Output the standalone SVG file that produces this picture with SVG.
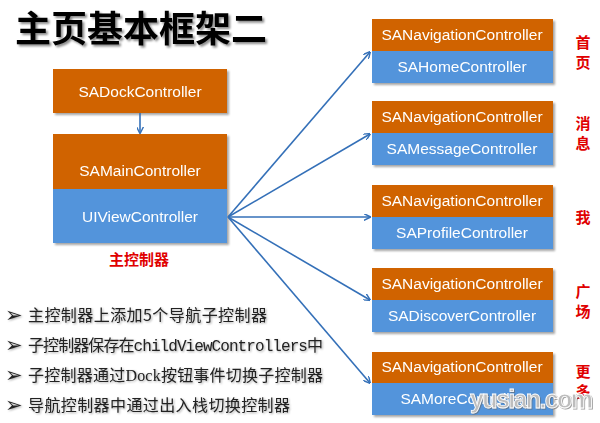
<svg xmlns="http://www.w3.org/2000/svg" width="600" height="423" viewBox="0 0 600 423">
<defs>
<filter id="sh" x="-10%" y="-10%" width="125%" height="130%"><feDropShadow dx="2" dy="2" stdDeviation="1" flood-color="#000" flood-opacity="0.35"/></filter>
<filter id="tsh" x="-5%" y="-10%" width="115%" height="130%"><feDropShadow dx="2" dy="2" stdDeviation="1.2" flood-color="#000" flood-opacity="0.45"/></filter>
<filter id="bsh" x="-5%" y="-20%" width="115%" height="150%"><feDropShadow dx="1" dy="1" stdDeviation="0.8" flood-color="#000" flood-opacity="0.35"/></filter>
<filter id="wsh" x="-5%" y="-20%" width="115%" height="150%"><feDropShadow dx="1" dy="1" stdDeviation="0.6" flood-color="#666" flood-opacity="0.6"/></filter>
<marker id="ah" viewBox="0 0 10 10" refX="9" refY="5" markerWidth="7" markerHeight="7" orient="auto" markerUnits="userSpaceOnUse">
<path d="M0,0 L10,5 L0,10" fill="none" stroke="#3470B8" stroke-width="2"/>
</marker>
</defs>
<style>
.or{fill:#D06400}
.bl{fill:#5294DB}
.bt{font-family:"Liberation Sans",Arial,sans-serif;font-size:15.5px;fill:#fff;text-anchor:middle}
.red{font-family:"Noto Sans CJK SC",sans-serif;font-size:15px;font-weight:bold;fill:#E00000;text-anchor:middle}
.bul{font-family:"Noto Sans CJK SC",sans-serif;font-size:16px;fill:#222}
.arr{font-family:"DejaVu Sans",sans-serif;font-size:21px;fill:#222}
.con line{stroke:#3470B8;stroke-width:1.6;marker-end:url(#ah)}
</style>
<rect width="600" height="423" fill="#fff"/>
<text x="15" y="42" font-family="Noto Sans CJK SC,sans-serif" font-size="36" font-weight="bold" fill="#000" filter="url(#tsh)" textLength="252">主页基本框架二</text>

<g id="dock" filter="url(#sh)">
<rect class="or" x="53" y="69" width="174" height="44"/>
<text class="bt" x="140" y="97">SADockController</text>
</g>
<g id="main" filter="url(#sh)">
<rect class="or" x="53" y="134" width="174" height="55"/>
<rect class="bl" x="53" y="189" width="174" height="54"/>
<text class="bt" x="140" y="176">SAMainController</text>
<text class="bt" x="140" y="222">UIViewController</text>
</g>
<text id="mainlabel" class="red" x="139" y="265">主控制器</text>

<g id="nav1" filter="url(#sh)">
<rect class="or" x="372" y="19" width="181" height="32"/>
<rect class="bl" x="372" y="51" width="181" height="32"/>
<text class="bt" x="462" y="40">SANavigationController</text>
<text class="bt" x="462" y="72">SAHomeController</text>
</g>
<g id="nav2" filter="url(#sh)">
<rect class="or" x="372" y="101" width="181" height="32"/>
<rect class="bl" x="372" y="133" width="181" height="32"/>
<text class="bt" x="462" y="122">SANavigationController</text>
<text class="bt" x="462" y="154">SAMessageController</text>
</g>
<g id="nav3" filter="url(#sh)">
<rect class="or" x="372" y="185" width="181" height="32"/>
<rect class="bl" x="372" y="217" width="181" height="32"/>
<text class="bt" x="462" y="206">SANavigationController</text>
<text class="bt" x="462" y="238">SAProfileController</text>
</g>
<g id="nav4" filter="url(#sh)">
<rect class="or" x="372" y="268" width="181" height="32"/>
<rect class="bl" x="372" y="300" width="181" height="32"/>
<text class="bt" x="462" y="289">SANavigationController</text>
<text class="bt" x="462" y="321">SADiscoverController</text>
</g>
<g id="nav5" filter="url(#sh)">
<rect class="or" x="372" y="352" width="181" height="31"/>
<rect class="bl" x="372" y="383" width="181" height="32"/>
<text class="bt" x="462" y="372">SANavigationController</text>
<text class="bt" x="462" y="404">SAMoreController</text>
</g>

<g id="tabs">
<text class="red" x="583" y="48">首</text>
<text class="red" x="583" y="68">页</text>
<text class="red" x="583" y="129">消</text>
<text class="red" x="583" y="149">息</text>
<text class="red" x="583" y="223">我</text>
<text class="red" x="583" y="297">广</text>
<text class="red" x="583" y="317">场</text>
<text class="red" x="583" y="377">更</text>
<text class="red" x="583" y="397">多</text>
</g>

<g id="connectors" class="con">
<line x1="140" y1="113" x2="140" y2="133"/>
<line x1="228" y1="217" x2="370" y2="52"/>
<line x1="228" y1="217" x2="370" y2="134"/>
<line x1="228" y1="217" x2="370" y2="217"/>
<line x1="228" y1="217" x2="370" y2="300"/>
<line x1="228" y1="217" x2="370" y2="383"/>
</g>

<g id="bullets" filter="url(#bsh)">
<text class="arr" x="5" y="322">➢</text>
<text class="arr" x="5" y="352">➢</text>
<text class="arr" x="5" y="382">➢</text>
<text class="arr" x="5" y="412">➢</text>
<text class="bul" x="28" y="321" textLength="239">主控制器上添加5个导航子控制器</text>
<text class="bul" x="28" y="351" textLength="295">子控制器保存在<tspan font-family="Liberation Mono,monospace">childViewControllers</tspan>中</text>
<text class="bul" x="28" y="381" textLength="295">子控制器通过<tspan font-family="Liberation Serif,serif">Dock</tspan>按钮事件切换子控制器</text>
<text class="bul" x="28" y="411" textLength="262">导航控制器中通过出入栈切换控制器</text>
</g>

<text id="watermark" x="470" y="408" font-family="Liberation Sans,Arial,sans-serif" font-size="25" font-weight="bold" fill="#bdbdbd" stroke="#fff" stroke-width="0.8" textLength="123" filter="url(#wsh)">yusian.com</text>
</svg>
